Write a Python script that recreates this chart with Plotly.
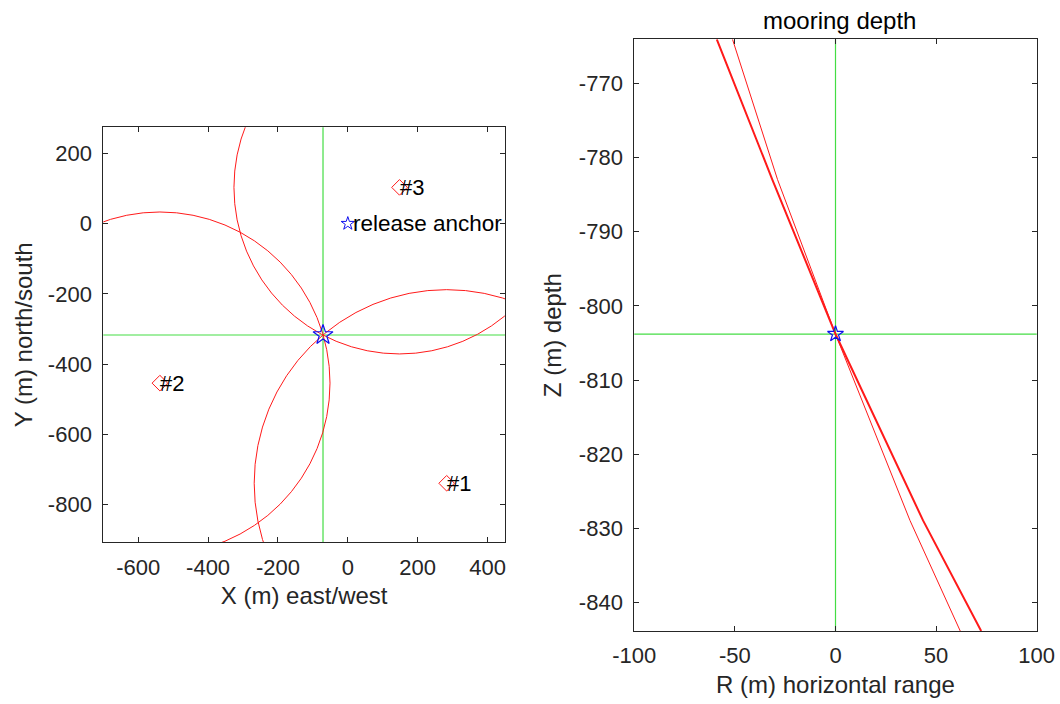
import plotly.graph_objects as go

# ---------------- data ----------------
# left panel: transponders
tp_labels = ["#1", "#2", "#3"]
tp_x = [283, -538, 148]
tp_y = [-739, -454, 103]
tp_range = [551, 487, 474]          # horizontal range circles (m)

anchor_x = [0]
anchor_y = [0]
anchor_label = "release anchor"

fix_x = [-71]
fix_y = [-317]

# right panel: range lines in R–Z plane
line_thick_r = [-59.0, -31.4, 0.0, 43.5, 72.4]
line_thick_z = [-764.1, -783.0, -803.8, -828.9, -843.8]
line_thin_r = [-51.2, -28.8, 0.0, 37.0, 62.0]
line_thin_z = [-764.1, -783.0, -803.8, -828.9, -843.8]
depth_r = [0]
depth_z = [-803.8]

x1_ticks = [-600, -400, -200, 0, 200, 400]
y1_ticks = [200, 0, -200, -400, -600, -800]
x2_ticks = [-100, -50, 0, 50, 100]
y2_ticks = [-770, -780, -790, -800, -810, -820, -830, -840]

x1_range = [-700, 450]
y1_range = [-907, 274]
x2_range = [-100, 100]
y2_range = [-843.8, -764.1]

# ---------------- styling ----------------
FONT = "Liberation Sans, Arial, Helvetica, sans-serif"
TXT = "#262626"
RED = "#ff1a1a"
GREEN = "#44dd44"
BLUE = "#1010ee"
TICK_SIZE = 22
TITLE_SIZE = 24
LABEL_SIZE = 22

W, H = 1060, 704
def dom_x(a, b):
    return [a / W, b / W]
def dom_y(top, bottom):
    return [1 - bottom / H, 1 - top / H]

fig = go.Figure()

# left panel markers
fig.add_trace(go.Scatter(x=tp_x, y=tp_y, mode="markers",
                         marker=dict(symbol="diamond-open", size=12, color=RED,
                                     line=dict(width=1, color=RED)),
                         xaxis="x", yaxis="y", showlegend=False, hoverinfo="skip"))
fig.add_trace(go.Scatter(x=anchor_x, y=anchor_y, mode="markers",
                         marker=dict(symbol="star-open", size=10, color=BLUE,
                                     line=dict(width=1, color=BLUE)),
                         xaxis="x", yaxis="y", showlegend=False, hoverinfo="skip"))
fig.add_trace(go.Scatter(x=fix_x, y=fix_y, mode="markers",
                         marker=dict(symbol="star-open", size=15, color=BLUE,
                                     line=dict(width=1.2, color=BLUE)),
                         xaxis="x", yaxis="y", showlegend=False, hoverinfo="skip"))

# right panel lines
fig.add_trace(go.Scatter(x=line_thin_r, y=line_thin_z, mode="lines",
                         line=dict(color=RED, width=1),
                         xaxis="x2", yaxis="y2", showlegend=False, hoverinfo="skip"))
fig.add_trace(go.Scatter(x=line_thick_r, y=line_thick_z, mode="lines",
                         line=dict(color=RED, width=2),
                         xaxis="x2", yaxis="y2", showlegend=False, hoverinfo="skip"))
fig.add_trace(go.Scatter(x=depth_r, y=depth_z, mode="markers",
                         marker=dict(symbol="star-open", size=12, color=BLUE,
                                     line=dict(width=1.2, color=BLUE)),
                         xaxis="x2", yaxis="y2", showlegend=False, hoverinfo="skip"))

shapes = []
# range circles
for cx, cy, r in zip(tp_x, tp_y, tp_range):
    shapes.append(dict(type="circle", xref="x", yref="y",
                       x0=cx - r, x1=cx + r, y0=cy - r, y1=cy + r,
                       line=dict(color=RED, width=1), layer="below"))
# green crosshairs
shapes.append(dict(type="line", xref="x", yref="y domain", x0=fix_x[0], x1=fix_x[0],
                   y0=0, y1=1, line=dict(color=GREEN, width=1.2), layer="below"))
shapes.append(dict(type="line", xref="x domain", yref="y", x0=0, x1=1,
                   y0=fix_y[0], y1=fix_y[0], line=dict(color=GREEN, width=1.2), layer="below"))
shapes.append(dict(type="line", xref="x2", yref="y2 domain", x0=depth_r[0], x1=depth_r[0],
                   y0=0, y1=1, line=dict(color=GREEN, width=1.2), layer="below"))
shapes.append(dict(type="line", xref="x2 domain", yref="y2", x0=0, x1=1,
                   y0=depth_z[0], y1=depth_z[0], line=dict(color=GREEN, width=1.2), layer="below"))

annotations = []
for lab, x, y in zip(tp_labels, tp_x, tp_y):
    annotations.append(dict(x=x, y=y, xref="x", yref="y", text=lab, showarrow=False,
                            xanchor="left", yanchor="middle", xshift=-2,
                            font=dict(family=FONT, size=LABEL_SIZE, color="black")))
annotations.append(dict(x=anchor_x[0], y=anchor_y[0], xref="x", yref="y", text=anchor_label,
                        showarrow=False, xanchor="left", yanchor="middle", xshift=3,
                        font=dict(family=FONT, size=LABEL_SIZE + 0.5, color="black")))

def axis(domain, rng, ticks, title, anchor, standoff, tl_standoff):
    return dict(domain=domain, range=rng, tickvals=ticks,
                ticktext=[str(t) for t in ticks], anchor=anchor,
                showgrid=False, zeroline=False, showline=True, mirror="ticks",
                linecolor=TXT, linewidth=1, ticks="inside", ticklen=5, tickcolor=TXT,
                tickfont=dict(family=FONT, size=TICK_SIZE, color=TXT),
                ticklabelstandoff=tl_standoff,
                title=dict(text=title, font=dict(family=FONT, size=TITLE_SIZE, color=TXT),
                           standoff=standoff),
                automargin=False)

fig.update_layout(
    width=W, height=H,
    margin=dict(l=0, r=0, t=0, b=0),
    paper_bgcolor="white", plot_bgcolor="white",
    xaxis=axis(dom_x(103.3, 505), x1_range, x1_ticks, "X (m) east/west", "y", 8, 5),
    yaxis=axis(dom_y(127.3, 542.3), y1_range, y1_ticks, "Y (m) north/south", "x", 8, 6),
    xaxis2=axis(dom_x(634.3, 1036.7), x2_range, x2_ticks, "R (m) horizontal range", "y2", 8, 5),
    yaxis2=axis(dom_y(39.3, 631), y2_range, y2_ticks, "Z (m) depth", "x2", 10, 6),
    shapes=shapes,
    annotations=annotations + [dict(
        x=(634.3 + 1036.7) / 2 / W + 0.004, y=1 - 20 / H, xref="paper", yref="paper",
        text="mooring depth", showarrow=False, xanchor="center", yanchor="middle",
        font=dict(family=FONT, size=TITLE_SIZE, color="black"))],
)

fig.write_html("out.html")
